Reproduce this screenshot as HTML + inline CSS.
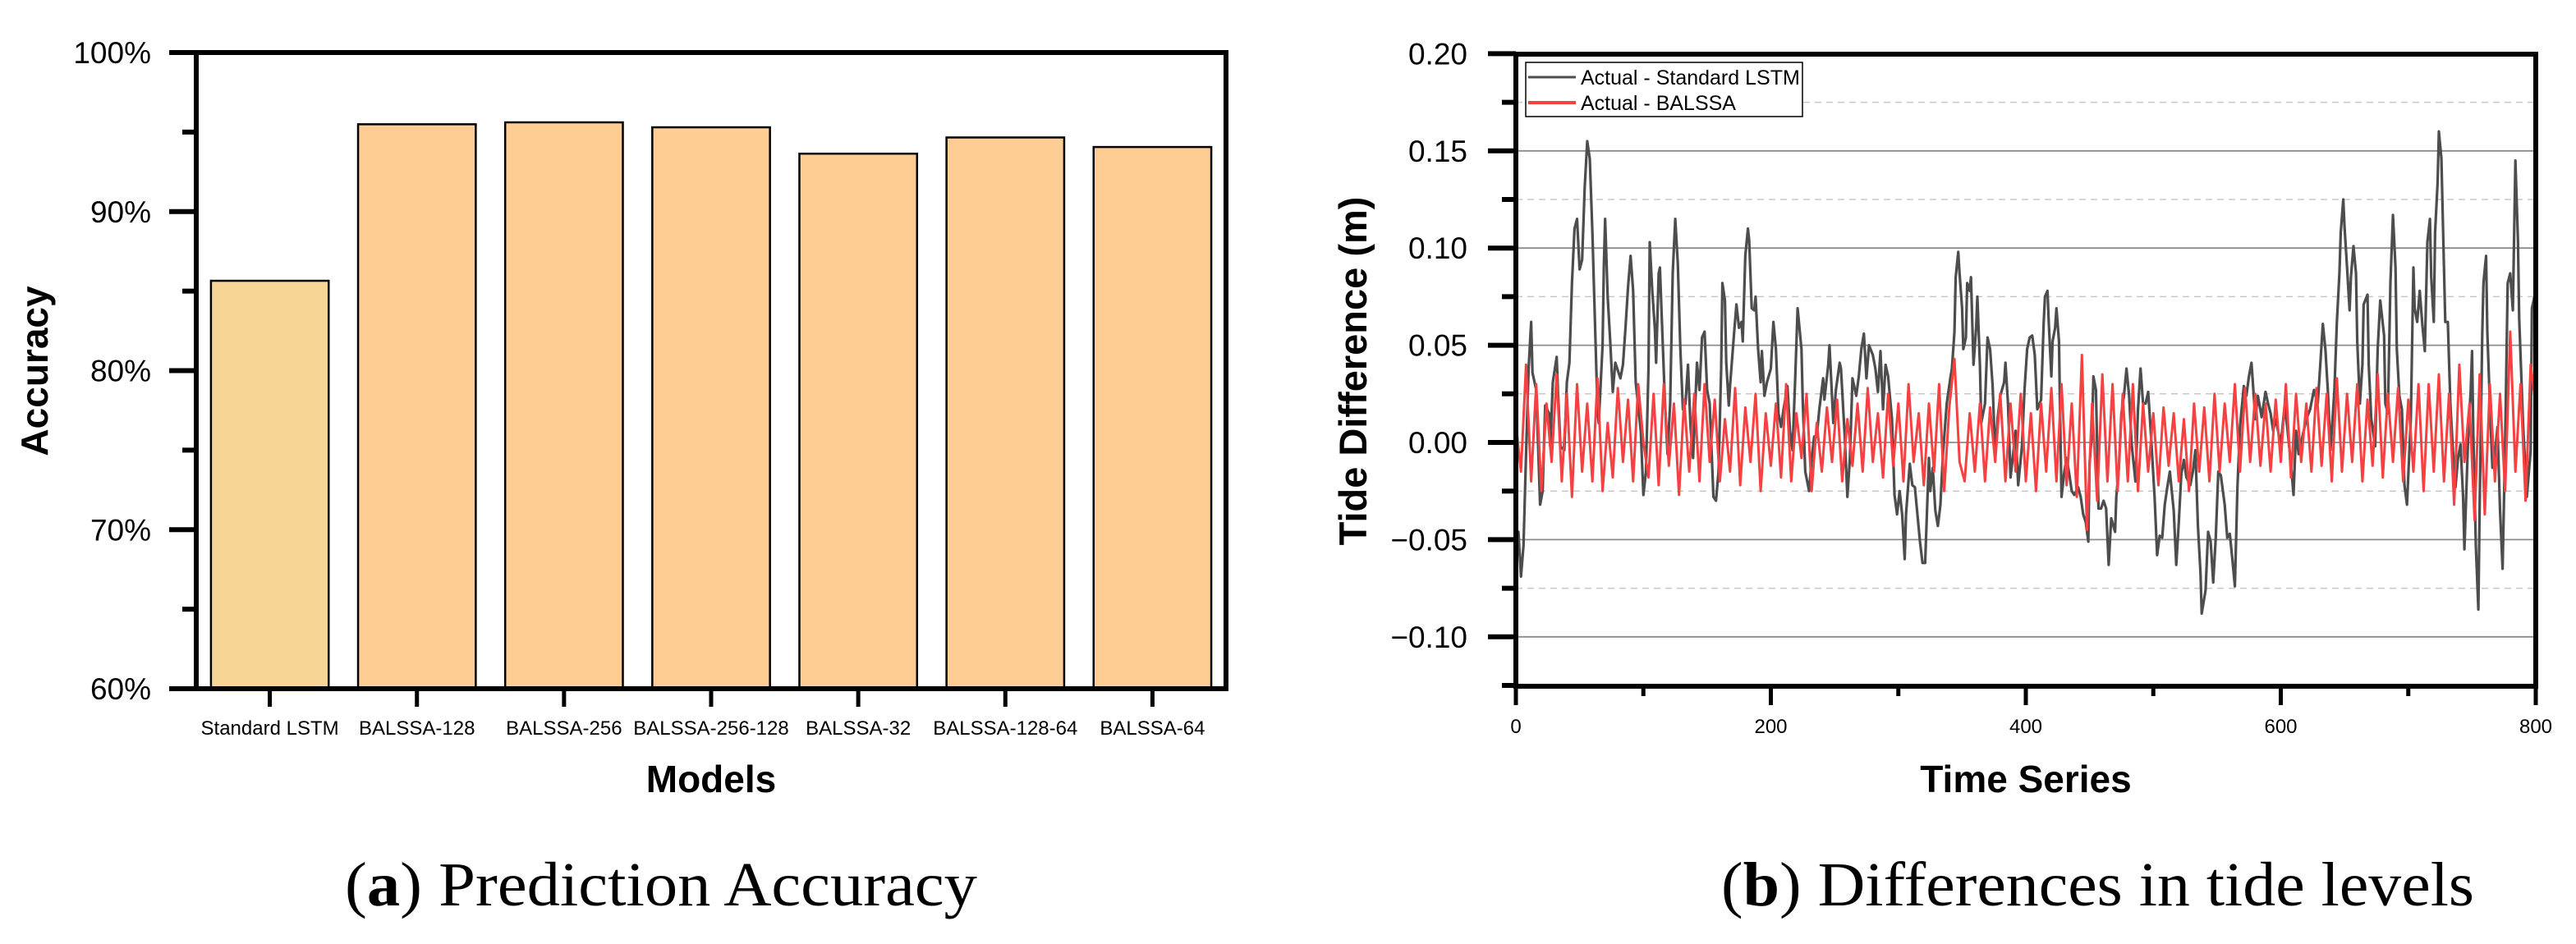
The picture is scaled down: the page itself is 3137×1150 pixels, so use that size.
<!DOCTYPE html>
<html><head><meta charset="utf-8"><style>
html,body{margin:0;padding:0;background:#fff;}
svg{display:block;}
text{font-family:"Liberation Sans",Arial,sans-serif;}
.cap{font-family:"Liberation Serif","Times New Roman",serif;}
</style></head><body>
<svg id="fig" width="3137" height="1150" viewBox="0 0 3137 1150" xmlns="http://www.w3.org/2000/svg">
<g id="chartA"></g>
<g id="chartB"></g>
<text class="cap" x="420" y="1103" font-size="76" textLength="770" lengthAdjust="spacingAndGlyphs">(<tspan font-weight="bold">a</tspan>) Prediction Accuracy</text>
<text class="cap" x="2096" y="1103" font-size="76" textLength="917" lengthAdjust="spacingAndGlyphs">(<tspan font-weight="bold">b</tspan>) Differences in tide levels</text>
</svg>
<script>
// ---- Chart A data ----
const models = ["Standard LSTM","BALSSA-128","BALSSA-256","BALSSA-256-128","BALSSA-32","BALSSA-128-64","BALSSA-64"];
const accuracy = [85.65, 95.49, 95.61, 95.30, 93.64, 94.66, 94.06];
const accTicks = [60,70,80,90,100];
const accMinor = [65,75,85,95];

// ---- Chart B data ----
const timeTicks = [0,200,400,600,800];
const timeMinor = [100,300,500,700];
const tideTicks = [-0.10,-0.05,0.00,0.05,0.10,0.15,0.20];
const tideMinor = [-0.125,-0.075,-0.025,0.025,0.075,0.125,0.175];
const lstmPts = [[0,-0.045],[2,-0.046],[4,-0.069],[6,-0.053],[8,-0.006],[10,0.038],[12,0.062],[13,0.036],[16,0.027],[19,-0.032],[21,-0.025],[23,0.019],[26,0.015],[27,-0.002],[29,0.031],[32,0.044],[33,0.027],[35,-0.002],[38,-0.004],[40,0.031],[42,0.041],[44,0.082],[46,0.110],[48,0.115],[50,0.089],[52,0.094],[54,0.131],[56,0.155],[58,0.146],[60,0.108],[62,0.062],[64,0.017],[65,0.010],[68,0.050],[69,0.090],[70,0.115],[72,0.075],[74,0.052],[76,0.026],[78,0.041],[82,0.033],[84,0.040],[86,0.059],[88,0.080],[90,0.096],[92,0.078],[94,0.031],[98,0.006],[100,-0.027],[102,-0.015],[104,0.038],[105,0.103],[107,0.078],[109,0.059],[110,0.041],[112,0.087],[113,0.090],[115,0.055],[117,0.020],[119,-0.006],[121,0.020],[123,0.087],[125,0.115],[127,0.092],[129,0.048],[131,0.017],[133,0.020],[135,0.040],[137,0.008],[139,-0.008],[142,0.041],[144,0.027],[146,0.054],[148,0.057],[150,0.027],[152,0.020],[155,-0.028],[157,-0.030],[159,-0.015],[161,0.038],[162,0.082],[164,0.073],[165,0.041],[167,0.019],[168,0.029],[171,0.055],[173,0.071],[175,0.059],[177,0.062],[178,0.052],[180,0.096],[182,0.110],[183,0.104],[185,0.069],[187,0.068],[188,0.075],[190,0.048],[192,0.031],[193,0.047],[195,0.024],[197,0.031],[200,0.038],[202,0.062],[204,0.048],[206,0.015],[208,0.008],[210,0.017],[213,0.029],[215,0.006],[217,-0.004],[219,0.031],[221,0.069],[224,0.048],[225,0.022],[227,-0.015],[230,-0.025],[232,-0.008],[234,0.003],[236,0.003],[238,0.017],[241,0.033],[242,0.022],[245,0.040],[246,0.050],[249,0.010],[251,0.027],[254,0.041],[255,0.038],[258,0.003],[260,-0.028],[262,-0.008],[264,0.033],
[267,0.024],[269,0.034],[271,0.048],[273,0.056],[275,0.033],[277,0.050],[280,0.045],[282,0.038],[284,0.026],[286,0.047],[288,0.017],[290,0.040],[292,0.034],[295,0.012],[297,-0.027],[299,-0.037],[301,-0.025],[303,-0.037],[305,-0.060],[306,-0.037],[309,-0.011],[311,-0.022],[313,-0.023],[315,-0.037],[317,-0.051],[319,-0.062],[321,-0.062],[324,-0.008],[325,-0.025],[327,-0.013],[329,-0.035],[331,-0.043],[333,-0.032],[335,-0.006],[338,0.020],[341,0.034],[342,0.038],[344,0.057],[345,0.085],[347,0.098],[348,0.087],[350,0.069],[351,0.048],[353,0.054],[354,0.082],[356,0.078],[357,0.085],[359,0.040],[361,0.059],[362,0.075],[364,0.040],[365,0.010],[368,0.020],[370,0.054],[372,0.048],[374,0.029],[376,-0.006],[378,0.013],[380,0.024],[383,0.031],[384,0.041],[386,0.020],[388,-0.018],[390,-0.006],[392,0.006],[394,-0.022],[397,-0.002],[399,0.027],[401,0.048],[403,0.054],[405,0.055],[407,0.045],[409,0.017],[412,0.022],[414,0.061],[415,0.075],[417,0.078],[418,0.062],[420,0.034],[421,0.052],[423,0.059],[424,0.069],[426,0.052],[427,0.010],[428,-0.028],[430,-0.016],[432,-0.008],[434,-0.016],[436,-0.025],[438,-0.027],[441,-0.023],[443,-0.028],[445,-0.037],[447,-0.041],[449,-0.051],[450,-0.011],[452,0.006],[453,0.034],[455,0.027],[457,-0.034],[459,-0.034],[461,-0.030],[463,-0.034],[465,-0.063],[467,-0.039],[470,-0.046],[471,-0.028],[473,-0.013],[475,0.015],[477,0.024],[479,0.038],[481,0.024],[483,-0.001],[486,-0.020],[488,0.017],[490,0.038],[492,0.020],[494,0.020],[496,0.026],[498,0.006],[501,-0.028],[503,-0.058],[505,-0.048],[507,-0.049],[509,-0.032],[511,-0.023],[513,-0.015],[516,-0.035],[518,-0.063],[520,-0.041],[522,-0.016],[524,-0.009],[526,-0.018],[529,-0.022],[531,-0.015],[533,-0.004],[535,-0.043],[537,-0.067],
[538,-0.088],[541,-0.076],[543,-0.046],[545,-0.051],[547,-0.072],[549,-0.049],[551,-0.015],[553,-0.017],[556,-0.032],[558,-0.049],[560,-0.047],[562,-0.060],[564,-0.074],[566,-0.023],[568,0.008],[571,0.029],[573,0.024],[575,0.034],[577,0.041],[579,0.022],[580,0.012],[582,0.024],[585,0.013],[588,0.026],[590,0.020],[592,0.015],[594,0.006],[596,0.012],[600,-0.001],[603,0.019],[605,0.008],[608,-0.011],[610,-0.027],[612,0.006],[614,-0.006],[617,0.003],[620,0.012],[623,0.017],[626,0.027],[629,0.020],[631,0.040],[633,0.061],[635,0.048],[637,0.026],[639,-0.004],[642,0.026],[644,0.062],[646,0.087],[647,0.108],[649,0.125],[650,0.111],[652,0.090],[654,0.068],[655,0.085],[657,0.101],[659,0.087],[660,0.052],[662,0.020],[664,0.040],[665,0.071],[668,0.076],[669,0.040],[671,0.012],[674,-0.002],[676,0.048],[678,0.073],[681,0.055],[682,0.020],[684,0.015],[686,0.082],[688,0.117],[690,0.090],[691,0.048],[693,0.024],[695,0.017],[697,-0.022],[699,-0.032],[702,0.013],[704,0.090],[705,0.069],[707,0.062],[709,0.078],[711,0.061],[713,0.047],[715,0.103],[717,0.115],[718,0.085],[720,0.062],[721,0.108],[723,0.134],[724,0.160],[726,0.146],[727,0.117],[729,0.062],[731,0.062],[733,0.020],[735,-0.004],[737,-0.023],[739,-0.008],[741,-0.001],[743,-0.028],[744,-0.055],[747,0.003],[749,0.027],[750,0.047],[751,0.006],[753,-0.053],[755,-0.086],[756,-0.032],[758,0.055],[759,0.082],[761,0.096],[762,0.057],[764,0.020],[766,-0.013],[768,-0.006],[770,0.008],[772,-0.035],[774,-0.065],[776,-0.001],[778,0.082],[780,0.087],[782,0.068],[784,0.145],[786,0.104],[787,0.064],[790,0.010],[792,-0.016],[793,-0.028],[796,-0.004],[797,0.069],[799,0.075]];
const balssaT0 = 0, balssaStep = 4;
const balssaV = [0.01,-0.015,0.04,-0.02,0.03,-0.025,0.02,-0.01,0.035,-0.02,
0.025,-0.028,0.03,-0.015,0.02,-0.02,0.033,-0.025,0.01,-0.018,
0.028,-0.01,0.022,-0.02,0.03,0.0,-0.018,0.025,-0.022,0.03,
-0.012,0.02,-0.027,0.022,-0.015,0.025,-0.02,0.03,-0.01,0.022,
-0.02,0.012,-0.015,0.028,-0.022,0.018,-0.01,0.025,-0.025,0.015,
-0.012,0.02,-0.018,0.03,-0.02,0.015,-0.008,0.025,-0.025,0.01,
-0.015,0.018,-0.01,0.022,-0.02,0.012,-0.012,0.02,-0.015,0.028,
-0.01,0.015,-0.018,0.025,-0.012,0.02,-0.02,0.03,-0.01,0.015,
-0.022,0.02,-0.015,0.03,-0.025,0.018,0.043,-0.01,-0.02,0.015,
-0.015,0.02,-0.02,0.018,-0.01,0.025,-0.02,0.02,-0.015,0.025,
-0.02,0.015,-0.025,0.02,-0.015,0.028,-0.02,0.03,-0.022,0.02,
-0.028,0.045,-0.045,0.02,-0.03,0.035,-0.02,0.03,-0.025,0.025,
-0.02,0.03,-0.025,0.02,-0.015,0.015,-0.022,0.018,-0.012,0.015,
-0.02,0.012,-0.025,0.02,-0.015,0.018,-0.02,0.025,-0.015,0.02,
-0.01,0.03,-0.015,0.028,-0.01,0.025,-0.012,0.02,-0.015,0.022,
-0.01,0.03,-0.018,0.025,-0.01,0.02,-0.015,0.028,-0.012,0.025,
-0.02,0.033,-0.015,0.025,-0.01,0.03,-0.02,0.022,-0.012,0.035,
-0.018,0.025,-0.01,0.028,-0.02,0.022,-0.015,0.03,-0.025,0.03,
-0.015,0.035,-0.02,0.025,-0.032,0.04,-0.01,0.02,-0.04,0.035,
-0.037,0.03,-0.02,0.025,-0.025,0.057,-0.015,0.03,-0.03,0.04,0.02];

const NS = "http://www.w3.org/2000/svg";
function mk(parent, tag, attrs, txt){
  const e = document.createElementNS(NS, tag);
  for (const k in attrs) e.setAttribute(k, attrs[k]);
  if (txt !== undefined) e.textContent = txt;
  parent.appendChild(e);
  return e;
}

// ---------- Chart A ----------
(function(){
  const g = document.getElementById('chartA');
  const L=239, R=1493, T=64, B=839, vmin=60, vmax=100;
  const y = v => B - (v - vmin)/(vmax - vmin)*(B - T);
  const bw = (R - L)/models.length;
  const xc = i => L + bw*(i+0.5);
  models.forEach((m,i)=>{
    const w = bw*0.8;
    const r = mk(g,'rect',{x:xc(i)-w/2,y:y(accuracy[i]),width:w,height:B-y(accuracy[i]),fill:i===0?'#f6d595':'#fecd94',stroke:'#000','stroke-width':2.5});
    
    
    const tk = mk(g,'line',{x1:xc(i),x2:xc(i),y1:B,y2:861,stroke:'#000','stroke-width':5});
    
    
    const lb = mk(g,'text',{x:xc(i),y:895,'font-size':24,'text-anchor':'middle'},m);
    
    
  });
  // frame
  const fr = mk(g,'path',{d:`M${L} ${B} L${L} ${T} L${R} ${T} L${R} ${B} Z`,fill:'none',stroke:'#000','stroke-width':6});
  
  
  accTicks.forEach(v=>{
    const t = mk(g,'line',{x1:206,x2:L,y1:y(v),y2:y(v),stroke:'#000','stroke-width':6});
    
    
    const lb = mk(g,'text',{x:184,y:y(v)+13,'font-size':37,'text-anchor':'end'},v+'%');
    
    
  });
  accMinor.forEach(v=>{
    const t = mk(g,'line',{x1:222,x2:L,y1:y(v),y2:y(v),stroke:'#000','stroke-width':6});
    
    
  });
  const xt = mk(g,'text',{x:866,y:965,'font-size':46,'font-weight':'bold','text-anchor':'middle'},'Models');
  
  
  const yt = mk(g,'text',{x:0,y:0,'font-size':46,'font-weight':'bold','text-anchor':'middle',transform:'translate(58,452) rotate(-90)'},'Accuracy');
  
  
})();

// ---------- Chart B ----------
(function(){
  const g = document.getElementById('chartB');
  const L=1846, R=3088, T=66, B=836, tmax=800, y0=539, per=118.4;
  const x = t => L + t/tmax*(R-L);
  const y = v => y0 - v/0.05*per;
  tideMinor.forEach(v=>{
    if (v > -0.12) {
      const gl = mk(g,'line',{x1:L,x2:R,y1:y(v),y2:y(v),stroke:'#c8c8c8','stroke-width':1.5,'stroke-dasharray':'8 6'});
      
      
    }
    const t = mk(g,'line',{x1:1829,x2:L,y1:y(v),y2:y(v),stroke:'#000','stroke-width':6});
    
    
  });
  tideTicks.forEach(v=>{
    const gl = mk(g,'line',{x1:L,x2:R,y1:y(v),y2:y(v),stroke:'#8c8c8c','stroke-width':1.8});
    
    
    const t = mk(g,'line',{x1:1812,x2:L,y1:y(v),y2:y(v),stroke:'#000','stroke-width':6});
    
    
    const s = (v<0?'\u2212':'') + Math.abs(v).toFixed(2);
    const lb = mk(g,'text',{x:1787,y:y(v)+13,'font-size':37,'text-anchor':'end'},s);
    
    
  });
  // series
  const gp = lstmPts.map((p,i)=>(i?'L':'M')+x(p[0]).toFixed(1)+' '+y(p[1]).toFixed(1)).join(' ');
  const gl = mk(g,'path',{d:gp,fill:'none',stroke:'#4d4d4d','stroke-width':3.2,'stroke-linejoin':'round'});
  
  
  const rp = balssaV.map((v,i)=>(i?'L':'M')+x(balssaT0+i*balssaStep).toFixed(1)+' '+y(v).toFixed(1)).join(' ');
  const rl = mk(g,'path',{d:rp,fill:'none',stroke:'#f54141','stroke-width':3,'stroke-linejoin':'round'});
  
  
  // frame
  const fr = mk(g,'path',{d:`M${L} ${B} L${L} ${T} L${R} ${T} L${R} ${B} Z`,fill:'none',stroke:'#000','stroke-width':6});
  
  
  timeTicks.forEach(t=>{
    const tk = mk(g,'line',{x1:x(t),x2:x(t),y1:B,y2:859,stroke:'#000','stroke-width':5});
    
    
    const lb = mk(g,'text',{x:x(t),y:893,'font-size':24,'text-anchor':'middle'},String(t));
    
    
  });
  timeMinor.forEach(t=>{
    const tk = mk(g,'line',{x1:x(t),x2:x(t),y1:B,y2:848,stroke:'#000','stroke-width':5});
    
    
  });
  // legend
  const lg = mk(g,'g',{});
  
  
  mk(lg,'rect',{x:1858,y:76,width:337,height:66,fill:'#fff',stroke:'#000','stroke-width':1.5});
  const l1 = mk(lg,'line',{x1:1861,x2:1919,y1:94,y2:94,stroke:'#4d4d4d','stroke-width':3});
  
  
  const t1 = mk(lg,'text',{x:1925,y:103,'font-size':25},'Actual - Standard LSTM');
  
  
  const l2 = mk(lg,'line',{x1:1861,x2:1919,y1:125,y2:125,stroke:'#f54141','stroke-width':4});
  
  
  const t2 = mk(lg,'text',{x:1925,y:134,'font-size':25},'Actual - BALSSA');
  
  
  const xt = mk(g,'text',{x:2467,y:965,'font-size':46,'font-weight':'bold','text-anchor':'middle'},'Time Series');
  
  
  const yt = mk(g,'text',{x:0,y:0,'font-size':47,'font-weight':'bold','text-anchor':'middle',transform:'translate(1664,452) rotate(-90)'},'Tide Difference (m)');
  
  
})();
</script>
</body></html>
